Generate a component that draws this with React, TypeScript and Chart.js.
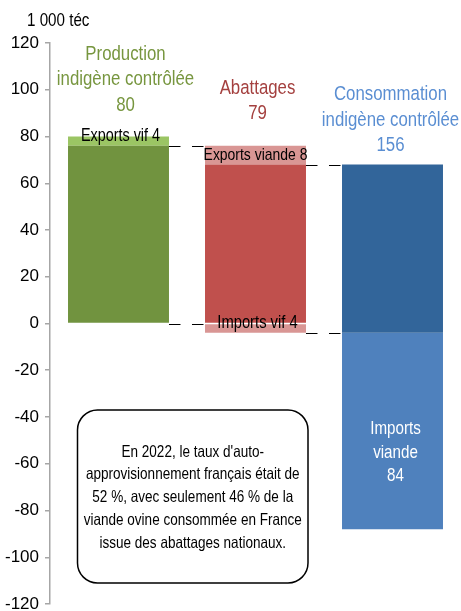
import React, { useEffect, useRef } from "react";
import { Chart, registerables } from "chart.js";

Chart.register(...registerables);

// ---- data ----
const categories = ["Production indigène contrôlée", "Abattages", "Consommation indigène contrôlée"];
const totals = [80, 79, 156];
const titleNames = [["Production", "indigène contrôlée"], ["Abattages"], ["Consommation", "indigène contrôlée"]];
const unitLabel = "1 000 téc";

// main (dark) segment of each bar
const mainLow = [0, 0, -4];
const mainHigh = [76, 68, 68];
// upper light segment (exports)
const upperLow = [76, 68, null];
const upperHigh = [80, 76, null];
const upperLabels = ["Exports vif 4", "Exports viande 8", ""];
// lower light segment (imports)
const lowerLow = [null, -4, -88];
const lowerHigh = [null, 0, -4];
const lowerLabels = ["", "Imports vif 4", ""];
const importsViandeLines = ["Imports", "viande", "84"];

// dashed connector levels between bar i and bar i+1
const connectorLevels = [
  [76, 0],
  [68, -4],
];

const yTicksMin = -120;
const yTicksMax = 120;
const yTicksStep = 20;

const noteLines = [
  "En 2022, le taux d'auto-",
  "approvisionnement français était de",
  "52 %, avec seulement 46 % de la",
  "viande ovine consommée en France",
  "issue des abattages nationaux.",
];

// ---- styles ----
const FONT = '"Liberation Sans", Arial, sans-serif';
const NARROW = 0.82;
const bgMain = ["#71933F", "#C0504D", "#32659A"];
const bgUpper = ["#9BC564", "#D99694", "#D99694"];
const bgLower = ["#D99694", "#D99694", "#4F81BD"];
const titleColors = ["#77963F", "#A4403F", "#5A8ED2"];
const titleGap = [26, 26.5, 13.5];
const titleDx = [7, 2, -2];

function pair(lo: (number | null)[], hi: (number | null)[]) {
  return lo.map((l, i) => (l === null || hi[i] === null ? null : [l, hi[i] as number]));
}

function narrowText(ctx: CanvasRenderingContext2D, text: string, x: number, y: number, size: number, color: string) {
  ctx.save();
  ctx.font = `${size}px ${FONT}`;
  ctx.fillStyle = color;
  ctx.translate(x, y);
  ctx.scale(NARROW, 1);
  ctx.fillText(text, 0, 0);
  ctx.restore();
}

export default function App() {
  const ref = useRef<HTMLCanvasElement>(null);

  useEffect(() => {
    const canvas = ref.current!;

    const annot = {
      id: "annot",
      afterDatasetsDraw(chart: any) {
        const { ctx, chartArea } = chart;
        const y = chart.scales.y;
        const bars = chart.getDatasetMeta(0).data as any[];
        ctx.save();

        // dashed connectors
        ctx.strokeStyle = "#000";
        ctx.lineWidth = 1;
        ctx.setLineDash([11.5, 11.5]);
        connectorLevels.forEach((levels, i) => {
          const x0 = bars[i].x + bars[i].width / 2;
          const x1 = bars[i + 1].x - bars[i + 1].width / 2;
          levels.forEach((v) => {
            const py = Math.round(y.getPixelForValue(v)) + 0.5;
            ctx.beginPath();
            ctx.moveTo(x0, py);
            ctx.lineTo(x1, py);
            ctx.stroke();
          });
        });
        ctx.setLineDash([]);

        // unit label
        ctx.textAlign = "left";
        ctx.textBaseline = "alphabetic";
        narrowText(ctx, unitLabel, chartArea.left - 23, chartArea.top - 17, 18.5, "#000");

        // titles above bars
        ctx.textAlign = "center";
        titleNames.forEach((names, i) => {
          const lines = [...names, String(totals[i])];
          const top = Math.max(mainHigh[i], upperHigh[i] ?? -Infinity);
          const base = y.getPixelForValue(top) - titleGap[i];
          const cx = bars[i].x + titleDx[i];
          lines.forEach((t, k) => narrowText(ctx, t, cx, base - (lines.length - 1 - k) * 25.5, 20.5, titleColors[i]));
        });

        // inner labels
        ctx.textBaseline = "middle";
        if (upperLabels[0])
          narrowText(ctx, upperLabels[0], bars[0].x + 2, y.getPixelForValue(upperHigh[0] as number), 17.5, "#000");
        if (upperLabels[1])
          narrowText(
            ctx,
            upperLabels[1],
            bars[1].x,
            y.getPixelForValue(((upperLow[1] as number) + (upperHigh[1] as number)) / 2),
            17,
            "#000"
          );
        if (lowerLabels[1])
          narrowText(ctx, lowerLabels[1], bars[1].x + 2, y.getPixelForValue(lowerHigh[1] as number), 18, "#000");

        // Imports viande 84 (white)
        const midV = ((lowerLow[2] as number) + (lowerHigh[2] as number)) / 2;
        const startY = y.getPixelForValue(midV) - 2;
        importsViandeLines.forEach((t, k) => narrowText(ctx, t, bars[2].x + 3, startY + k * 23.5, 18.5, "#FFFFFF"));

        // note box
        const bx = chartArea.left + 27.5;
        const by = y.getPixelForValue(-37);
        const bw = 230.5;
        const bh = y.getPixelForValue(-111) - by;
        ctx.beginPath();
        (ctx as any).roundRect(bx, by, bw, bh, 20);
        ctx.fillStyle = "#FFFFFF";
        ctx.fill();
        ctx.strokeStyle = "#000";
        ctx.lineWidth = 1.5;
        ctx.stroke();
        const lh = 22.75;
        const cy = by + bh / 2 + 1;
        const y0 = cy - ((noteLines.length - 1) * lh) / 2;
        noteLines.forEach((t, k) => narrowText(ctx, t, bx + bw / 2, y0 + k * lh, 16.5, "#000"));

        ctx.restore();
      },
    };

    const chart = new Chart(canvas, {
      type: "bar",
      data: {
        labels: categories,
        datasets: [
          { data: pair(mainLow, mainHigh) as any, backgroundColor: bgMain, grouped: false } as any,
          { data: pair(upperLow, upperHigh) as any, backgroundColor: bgUpper, grouped: false } as any,
          { data: pair(lowerLow, lowerHigh) as any, backgroundColor: bgLower, grouped: false } as any,
        ],
      },
      options: {
        animation: false,
        responsive: false,
        layout: { padding: { top: 43, bottom: 7, left: 0, right: 0 } },
        datasets: { bar: { categoryPercentage: 1, barPercentage: 0.737 } } as any,
        plugins: { legend: { display: false }, tooltip: { enabled: false } },
        scales: {
          x: { display: false },
          y: {
            min: yTicksMin,
            max: yTicksMax,
            ticks: { stepSize: yTicksStep, color: "#000", font: { family: FONT, size: 17 }, padding: 6 },
            grid: { drawOnChartArea: false, drawTicks: true, tickLength: 5, color: "#A6A6A6", lineWidth: 1.5 },
            border: { display: true, color: "#A6A6A6", width: 1.5 },
            afterFit(scale: any) {
              scale.width = 50;
              scale.paddingTop = 0;
              scale.paddingBottom = 0;
            },
          } as any,
        },
      },
      plugins: [annot],
    });
    return () => chart.destroy();
  }, []);

  return (
    <div style={{ position: "absolute", left: 0, top: 0, width: 461, height: 611, background: "#fff" }}>
      <canvas ref={ref} width={461} height={611} style={{ display: "block", width: 461, height: 611 }} />
    </div>
  );
}
